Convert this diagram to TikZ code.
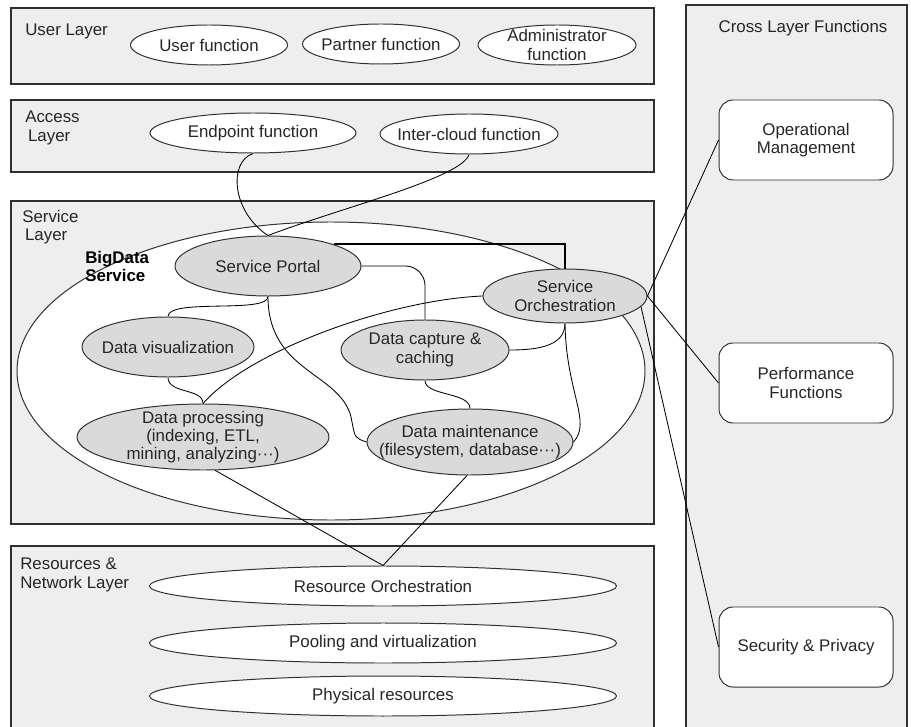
\documentclass[tikz,border=0pt]{standalone}
\usepackage{fontspec}
\setmainfont{Liberation Sans}
\usepackage{xcolor}
\usepackage{tikz}
\usetikzlibrary{shapes.geometric,positioning}
\definecolor{layerbg}{HTML}{EEEEEE}
\definecolor{svcgray}{HTML}{DADADA}
\definecolor{edge}{HTML}{303030}
\newcommand{\pxu}{0.025cm}

\begin{document}
\begin{tikzpicture}[x=0.025cm,y=-0.025cm,font=\fontsize{12}{13}\selectfont,text=black!85]
\tikzstyle{layer}=[draw=edge,fill=layerbg,line width=0.8pt]
\tikzstyle{func}=[ellipse,draw=edge,fill=white,inner sep=-8pt,align=center,line width=0.7pt]
\tikzstyle{svc}=[func,fill=svcgray]
\tikzstyle{cross}=[rectangle,rounded corners=10pt,draw=edge,fill=white,align=center,line width=0.7pt,minimum width=174*\pxu,minimum height=80*\pxu]
\tikzstyle{link}=[draw=black,line width=0.6pt]
\tikzstyle{lbl}=[anchor=north west,align=left,inner sep=0pt]
\useasboundingbox (0,0) rectangle (911,727);

\draw[layer] (11,8) rectangle (654,84);
\draw[layer] (11,100) rectangle (654,172);
\draw[layer] (11,201) rectangle (654,524);
\draw[layer] (11,546) rectangle (654,740);
\draw[layer] (686,5) rectangle (907,740);

\node[lbl] (userlbl) at (25,24) {User Layer};
\node[lbl] (accesslbl) at (25,111) {Access\\\,Layer};
\node[lbl] (servicelbl) at (22,210) {Service\\\,Layer};
\node[lbl] (reslbl) at (20,558) {Resources \&\\Network Layer};
\node (crosslbl) at (803,28) {Cross Layer Functions};

\node[func,minimum width=157*\pxu,minimum height=40*\pxu] (userf) at (209,45) {User function};
\node[func,minimum width=157*\pxu,minimum height=40*\pxu] (partner) at (381,44) {Partner function};
\node[func,minimum width=158*\pxu,minimum height=40*\pxu] (admin) at (557,45) {Administrator\\function};

\node[func,minimum width=206*\pxu,minimum height=40*\pxu] (endp) at (253,133) {Endpoint function};
\node[func,minimum width=178*\pxu,minimum height=40*\pxu] (inter) at (469,134) {Inter-cloud function};

\node[ellipse,draw=edge,fill=white,line width=0.7pt,inner sep=0pt,minimum width=628*\pxu,minimum height=298*\pxu] (bigdata) at (331,371) {};
\node[lbl,font=\fontsize{12}{13}\selectfont\bfseries,text=black] (bdlbl) at (85,251) {BigData\\Service};

\node[svc,minimum width=186*\pxu,minimum height=60*\pxu] (portal) at (268,266) {Service Portal};
\node[svc,minimum width=164*\pxu,minimum height=54*\pxu] (orch) at (565,296) {Service\\Orchestration};
\node[svc,minimum width=172*\pxu,minimum height=60*\pxu] (vis) at (168,347) {Data visualization};
\node[svc,minimum width=168*\pxu,minimum height=60*\pxu] (capture) at (425,350) {Data capture \&\\caching};
\node[svc,minimum width=252*\pxu,minimum height=66*\pxu] (proc) at (203,437) {Data processing\\(indexing, ETL,\\mining, analyzing···)};
\node[svc,inner xsep=-16pt,minimum width=206*\pxu,minimum height=66*\pxu] (maint) at (470,442) {Data maintenance\\(filesystem, database···)};

\node[func,minimum width=467*\pxu,minimum height=40*\pxu] (resorch) at (383,586) {Resource Orchestration};
\node[func,minimum width=467*\pxu,minimum height=40*\pxu] (pool) at (383,643) {Pooling and virtualization};
\node[func,minimum width=467*\pxu,minimum height=40*\pxu] (phys) at (383,696) {Physical resources};

\node[cross] (opm) at (806,140) {Operational\\Management};
\node[cross] (perf) at (806,383) {Performance\\Functions};
\node[cross] (secpriv) at (806,647) {Security \& Privacy};

\draw[link] (endp.south) .. controls (228,162) and (232,212) .. (portal.north);
\draw[link] (inter.south) .. controls (462,178) and (340,208) .. (portal.north);
\draw[link,line width=1.4pt] (portal.north east) -| (orch.north);
\draw[link,rounded corners=14pt] (portal.east) -| (capture.north);
\draw[link] (portal.south) .. controls (268,314) and (168,298) .. (vis.north);
\draw[link] (portal.south) .. controls (268,375) and (345,372) .. (352,422) .. controls (355,438) .. (maint.west);
\draw[link] (orch.west) .. controls (390,300) and (250,350) .. (proc.north);
\draw[link] (vis.south) .. controls (168,394) and (203,388) .. (proc.north);
\draw[link] (capture.south) .. controls (425,396) and (470,392) .. (maint.north);
\draw[link] (orch.south) to[out=-90,in=0] (capture.east);
\draw[link] (orch.south) .. controls (566,392) and (592,422) .. (maint.east);
\draw[link] (proc.-70) -- (resorch.north);
\draw[link] (maint.-95) -- (resorch.north);
\draw[link] (orch.east) -- (opm.west);
\draw[link] (orch.east) -- (perf.west);
\draw[link] (orch.-8) -- (secpriv.west);
\end{tikzpicture}
\end{document}
